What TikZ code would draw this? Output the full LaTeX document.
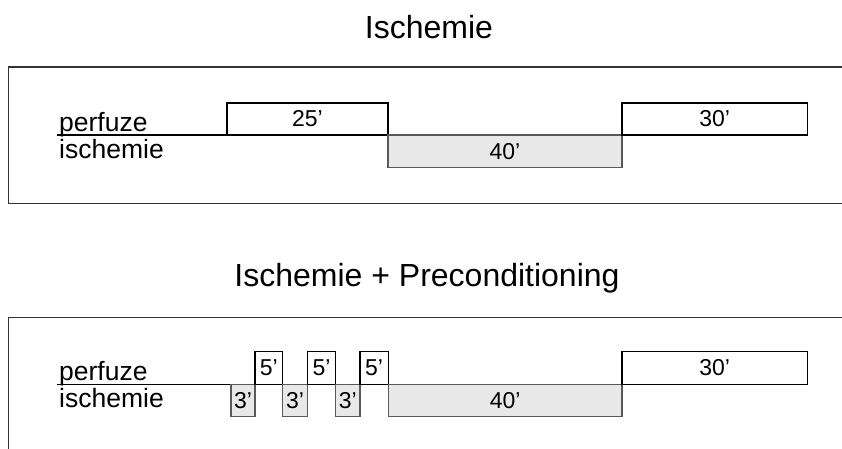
\documentclass[tikz,border=0pt]{standalone}
\usepackage{fontspec}
\setmainfont{Liberation Sans}
\begin{document}
\begin{tikzpicture}[x=1pt,y=1pt,
  frame/.style={draw=black!80,line width=1.5pt},
  pbox/.style={draw=black,line width=1.2pt,fill=white,inner sep=0pt,outer sep=0pt,
    font=\fontsize{23}{26}\selectfont},
  ibox/.style={draw=black!65,line width=1.2pt,fill=black!9,inner sep=0pt,outer sep=0pt,
    font=\fontsize{23}{26}\selectfont},
  title/.style={font=\fontsize{32}{38}\selectfont,anchor=base,inner sep=0pt},
  lab/.style={font=\fontsize{26.5}{30}\selectfont,anchor=base west,inner sep=0pt},
  axis/.style={draw=black,line width=1.2pt}]
\useasboundingbox (0,0) rectangle (842,448);
\clip (0,0) rectangle (842,448);
\fill[white] (0,0) rectangle (842,448);

% ---------- Panel 1 ----------
\node[title] (t1) at (429,409.7) {Ischemie};
\draw[frame] (860,381) -- (8.5,381) -- (8.5,244.5) -- (860,244.5);
\coordinate (a1s) at (57,313);
\coordinate (a1e) at (807.5,313);
\draw[axis] (a1s) -- (a1e);
\node[lab] (pf1) at (59,317) {perfuze};
\node[lab] (is1) at (59,290) {ischemie};
\node[pbox,anchor=south west,minimum width=161,minimum height=32] (b25) at (227,313) {25'};
\node[ibox,anchor=north west,minimum width=234,minimum height=32.5] (b40a) at (388,313) {40'};
\node[pbox,anchor=south west,minimum width=185.5,minimum height=32] (b30a) at (622,313) {30'};

% ---------- Panel 2 ----------
\node[title] (t2) at (427,161.3) {Ischemie + Preconditioning};
\draw[frame] (860,-20) -- (8.5,-20) -- (8.5,130.5) -- (860,130.5);
\coordinate (a2s) at (57,63.7);
\coordinate (a2e) at (807.5,63.7);
\draw[axis] (a2s) -- (a2e);
\node[lab] (pf2) at (59,68) {perfuze};
\node[lab] (is2) at (59,41) {ischemie};
\node[ibox,anchor=north west,minimum width=24,minimum height=32.2] (c1) at (231,63.7) {3'};
\node[pbox,anchor=south west,minimum width=27.7,minimum height=32.6] (f1) at (255,63.7) {5'};
\node[ibox,anchor=north west,minimum width=24.6,minimum height=32.2] (c2) at (282.7,63.7) {3'};
\node[pbox,anchor=south west,minimum width=28.4,minimum height=32.6] (f2) at (307.3,63.7) {5'};
\node[ibox,anchor=north west,minimum width=24.3,minimum height=32.2] (c3) at (335.7,63.7) {3'};
\node[pbox,anchor=south west,minimum width=28.3,minimum height=32.6] (f3) at (360,63.7) {5'};
\node[ibox,anchor=north west,minimum width=233.7,minimum height=32.2] (b40b) at (388.3,63.7) {40'};
\node[pbox,anchor=south west,minimum width=185.5,minimum height=32.6] (b30b) at (622,63.7) {30'};
\end{tikzpicture}
\end{document}
